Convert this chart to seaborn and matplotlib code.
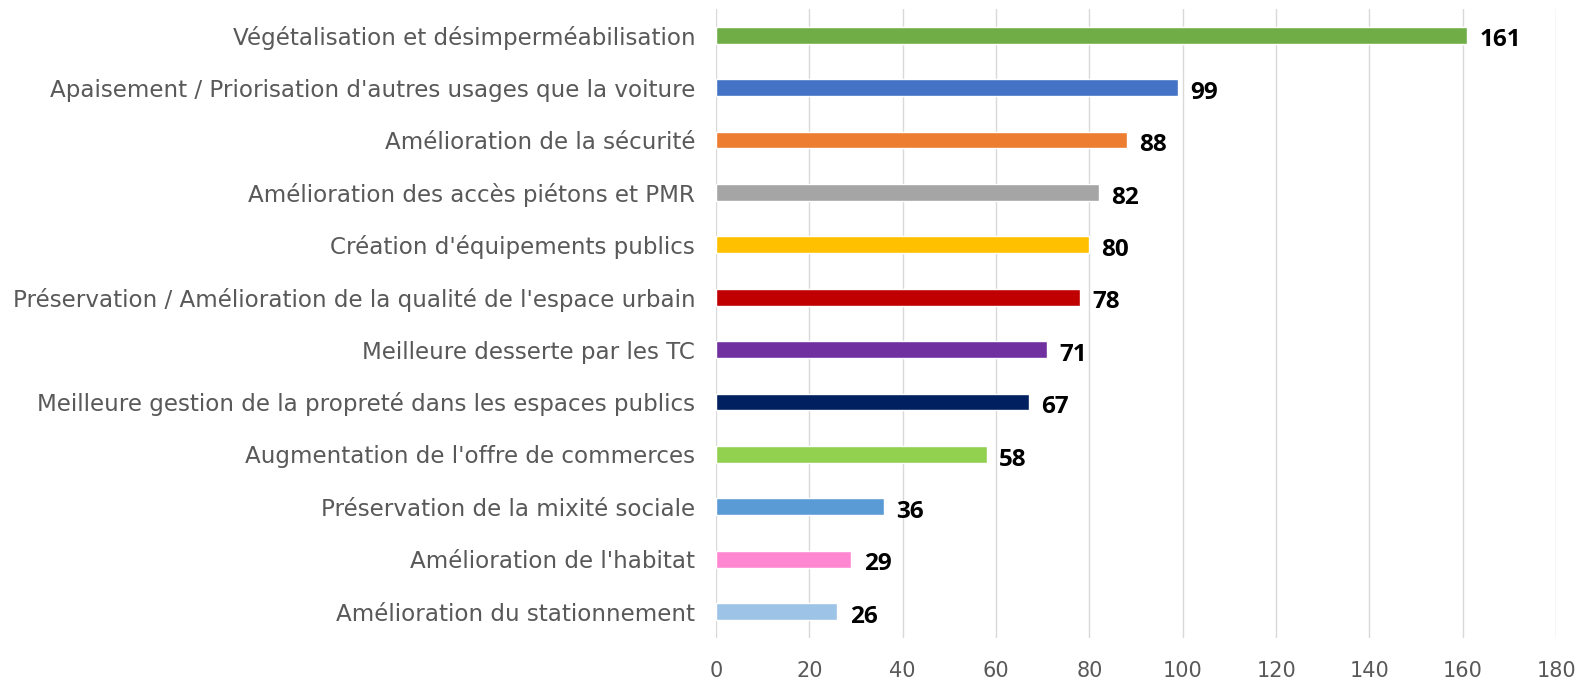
import pandas as pd
import matplotlib.pyplot as plt
import seaborn as sns

categories = [
    "Végétalisation et désimperméabilisation",
    "Apaisement / Priorisation d'autres usages que la voiture",
    "Amélioration de la sécurité",
    "Amélioration des accès piétons et PMR",
    "Création d'équipements publics",
    "Préservation / Amélioration de la qualité de l'espace urbain",
    "Meilleure desserte par les TC",
    "Meilleure gestion de la propreté dans les espaces publics",
    "Augmentation de l'offre de commerces",
    "Préservation de la mixité sociale",
    "Amélioration de l'habitat",
    "Amélioration du stationnement",
]
values = [161, 99, 88, 82, 80, 78, 71, 67, 58, 36, 29, 26]
colors = ["#70AD47", "#4472C4", "#ED7D31", "#A5A5A5", "#FFC000", "#C00000",
          "#7030A0", "#002060", "#92D050", "#5B9BD5", "#FF87D2", "#9DC3E6"]

df = pd.DataFrame({"categorie": categories, "valeur": values})

sns.set_style("white")
plt.rcParams['font.family'] = ['DejaVu Sans']

fig = plt.figure(figsize=(15.79, 6.79), dpi=100)
ax = fig.add_axes([0.4535, 0.0608, 0.532, 0.926])

sns.barplot(data=df, x="valeur", y="categorie", hue="categorie", palette=colors,
            orient="h", width=0.32, legend=False, ax=ax, saturation=1)

ax.set_xlim(0, 180)
ax.set_xticks(range(0, 181, 20))
ax.set_ylim(len(categories) - 0.5, -0.5)
ax.grid(axis="x", color="#D9D9D9", linewidth=1)
ax.set_axisbelow(True)
for s in ax.spines.values():
    s.set_visible(False)
ax.set_xlabel("")
ax.set_ylabel("")
ax.tick_params(axis="y", length=0, pad=15, labelsize=16.6, labelcolor="#595959")
ax.tick_params(axis="x", length=0, pad=17, labelsize=15, labelcolor="#595959")

# étiquettes de valeur à droite des barres
for i, v in enumerate(values):
    ax.text(v + 2.6, i + 0.1, str(v), va="center", ha="left",
            fontsize=17.5, fontweight="bold", color="black", family="Open Sans")

fig.savefig("out.png", dpi=100)
